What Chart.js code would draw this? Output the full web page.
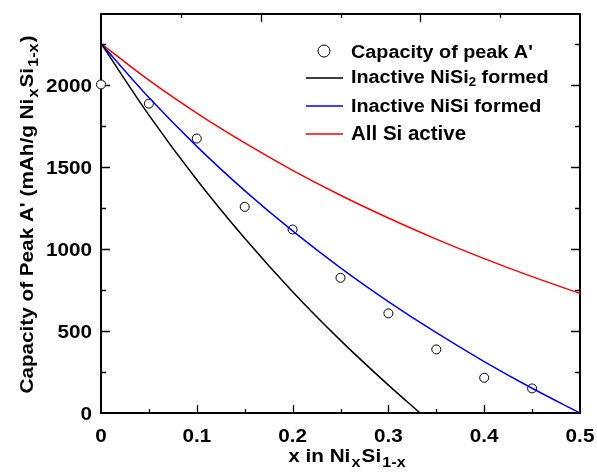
<!DOCTYPE html>
<html>
<head>
<meta charset="utf-8">
<script src="https://cdn.jsdelivr.net/npm/chart.js@4.4.1/dist/chart.umd.min.js"></script>
<style>
    html, body { margin: 0; padding: 0; background: #ffffff; }
    #wrap { width: 597px; height: 472px; }
</style>
</head>
<body>
<div id="wrap"><canvas id="capChart" width="597" height="472"></canvas></div>
<script>
// measured capacity of peak A' and the three model curves
const xSteps = [0, 0.05, 0.1, 0.15, 0.2, 0.25, 0.3, 0.35, 0.4, 0.45, 0.5];
const peakX = [0, 0.05, 0.1, 0.15, 0.2, 0.25, 0.3, 0.35, 0.4, 0.45];
const peakCap = [2005, 1888, 1675, 1258, 1120, 825, 608, 388, 215, 150];
const niSi2X = [0, 0.05, 0.1, 0.15, 0.2, 0.25, 0.3, 0.333];
const niSi2Cap = [2255, 1818, 1423, 1066, 740, 443, 170, 0];
const niSiCap = [2255, 1925, 1627, 1357, 1111, 886, 680, 490, 314, 151, 0];
const allSiCap = [2255, 2031, 1830, 1648, 1481, 1329, 1190, 1061, 942, 832, 730];

const xTickLabels = ['0', '0.1', '0.2', '0.3', '0.4', '0.5'];
const yTickLabels = ['0', '500', '1000', '1500', '2000'];

const FONT = '"Liberation Sans", Arial, sans-serif';

const pairs = (xs, ys) => ys.map((v, i) => ({ x: xs[i], y: v }));

// draws text made of normal and subscript pieces, stretched sideways a bit
function drawRich(ctx, parts, x, y, opt) {
    const main = `bold ${opt.size}px ${FONT}`;
    const sub = `bold ${opt.sub || 13}px ${FONT}`;
    const gap = opt.gap || 0;
    let w = 0;
    parts.forEach(([t, s]) => {
        ctx.font = s ? sub : main;
        w += ctx.measureText(t).width + (s ? 2 * gap : 0);
    });
    ctx.save();
    ctx.translate(x, y);
    if (opt.rot) ctx.rotate(opt.rot);
    ctx.scale(opt.stretch || 1, 1);
    ctx.fillStyle = '#000';
    ctx.textBaseline = 'alphabetic';
    ctx.textAlign = 'left';
    let cx = opt.align === 'center' ? -w / 2 : (opt.align === 'right' ? -w : 0);
    parts.forEach(([t, s]) => {
        ctx.font = s ? sub : main;
        if (s) cx += gap;
        ctx.fillText(t, cx, s ? (opt.drop || 5) : 0);
        cx += ctx.measureText(t).width + (s ? gap : 0);
    });
    ctx.restore();
}

const frameAndAxes = {
    id: 'frameAndAxes',
    beforeDatasetsDraw(chart) {
        const { ctx, chartArea: a, scales: { x, y } } = chart;
        ctx.save();
        ctx.strokeStyle = '#000';
        ctx.lineWidth = 1.3;
        ctx.beginPath();
        // left / right ticks, long every 500, short every 250
        for (let v = 250; v < y.max; v += 250) {
            const py = Math.round(y.getPixelForValue(v)) + 0.5;
            const len = v % 500 === 0 ? 9 : 5;
            ctx.moveTo(a.left, py); ctx.lineTo(a.left + len, py);
            ctx.moveTo(a.right, py); ctx.lineTo(a.right - len, py);
        }
        // bottom ticks, long every 0.1, short every 0.05
        for (let k = 1; k < 10; k++) {
            const px = Math.round(x.getPixelForValue(k * 0.05)) + 0.5;
            const len = k % 2 === 0 ? 8 : 4;
            ctx.moveTo(px, a.bottom); ctx.lineTo(px, a.bottom - len);
        }
        // top ticks on their own 1/12 spacing
        for (let k = 1; k < 6; k++) {
            const px = Math.round(x.getPixelForValue(k * 0.5 / 6)) + 0.5;
            const len = k % 2 === 0 ? 8 : 4;
            ctx.moveTo(px, a.top); ctx.lineTo(px, a.top + len);
        }
        ctx.stroke();

        ctx.lineWidth = 2;
        ctx.strokeRect(a.left, a.top, a.right - a.left, a.bottom - a.top);
        ctx.restore();

        // tick labels
        xTickLabels.forEach(t => {
            drawRich(ctx, [[t, false]], x.getPixelForValue(parseFloat(t)), a.bottom + 29,
                { size: 18, stretch: 1.15, align: 'center' });
        });
        yTickLabels.forEach(t => {
            drawRich(ctx, [[t, false]], a.left - 9, y.getPixelForValue(parseFloat(t)) + 6.5,
                { size: 18, stretch: 1.15, align: 'right' });
        });

        // axis titles
        drawRich(ctx, [['x in Ni', false], ['x', true], ['Si', false], ['1-x', true]],
            (a.left + a.right) / 2 + 7, a.bottom + 49,
            { size: 18, sub: 14, stretch: 1.15, align: 'center', drop: 5, gap: 1 });
        drawRich(ctx, [["Capacity of Peak A' (mAh/g Ni", false], ['x', true], ['Si', false], ['1-x', true], [')', false]],
            33, (a.top + a.bottom) / 2 + 1,
            { size: 18, sub: 14, stretch: 1.15, align: 'center', rot: -Math.PI / 2, drop: 5, gap: 1 });
    },
    afterDatasetsDraw(chart) {
        const ctx = chart.ctx;
        ctx.save();
        // legend
        ctx.lineWidth = 1;
        ctx.strokeStyle = '#000';
        ctx.fillStyle = '#fff';
        ctx.beginPath();
        ctx.arc(324, 51, 6, 0, Math.PI * 2);
        ctx.fill();
        ctx.stroke();
        [['#000000', 78], ['#0000ff', 106], ['#ff0000', 134]].forEach(([c, ly]) => {
            ctx.strokeStyle = c;
            ctx.lineWidth = 1.5;
            ctx.beginPath();
            ctx.moveTo(306, ly); ctx.lineTo(343, ly);
            ctx.stroke();
        });
        ctx.restore();
        drawRich(ctx, [["Capacity of peak A'", false]], 351, 57.5, { size: 18, stretch: 1.1 });
        drawRich(ctx, [['Inactive NiSi', false], ['2', true], [' formed', false]], 351, 82.5,
            { size: 18, sub: 12, stretch: 1.1, drop: 3 });
        drawRich(ctx, [['Inactive NiSi formed', false]], 351, 111.5, { size: 18, stretch: 1.1 });
        drawRich(ctx, [['All Si active', false]], 351, 140, { size: 20.5, stretch: 1.0 });
    }
};

new Chart(document.getElementById('capChart'), {
    type: 'line',
    data: {
        datasets: [
            {
                label: 'Inactive NiSi2 formed',
                data: pairs(niSi2X, niSi2Cap),
                borderColor: '#000000',
                borderWidth: 1.5,
                pointRadius: 0,
                cubicInterpolationMode: 'monotone'
            },
            {
                label: 'Inactive NiSi formed',
                data: pairs(xSteps, niSiCap),
                borderColor: '#0000ff',
                borderWidth: 1.5,
                pointRadius: 0,
                cubicInterpolationMode: 'monotone'
            },
            {
                label: 'All Si active',
                data: pairs(xSteps, allSiCap),
                borderColor: '#ff0000',
                borderWidth: 1.5,
                pointRadius: 0,
                cubicInterpolationMode: 'monotone'
            },
            {
                label: "Capacity of peak A'",
                data: pairs(peakX, peakCap),
                showLine: false,
                pointStyle: 'circle',
                pointRadius: 4.5,
                pointBorderWidth: 1,
                pointBorderColor: '#000000',
                pointBackgroundColor: '#ffffff',
                clip: false
            }
        ]
    },
    options: {
        responsive: false,
        animation: false,
        devicePixelRatio: 1,
        layout: { padding: { top: 14, right: 17, left: 0, bottom: 0 } },
        plugins: {
            legend: { display: false },
            tooltip: { enabled: false }
        },
        scales: {
            x: {
                type: 'linear',
                min: 0,
                max: 0.5,
                grid: { display: false, drawTicks: false },
                border: { display: false },
                ticks: { display: false },
                afterFit: s => { s.height = 59; }
            },
            y: {
                type: 'linear',
                min: 0,
                max: 2435,
                grid: { display: false, drawTicks: false },
                border: { display: false },
                ticks: { display: false },
                afterFit: s => { s.width = 101; }
            }
        }
    },
    plugins: [frameAndAxes]
});
</script>
</body>
</html>
